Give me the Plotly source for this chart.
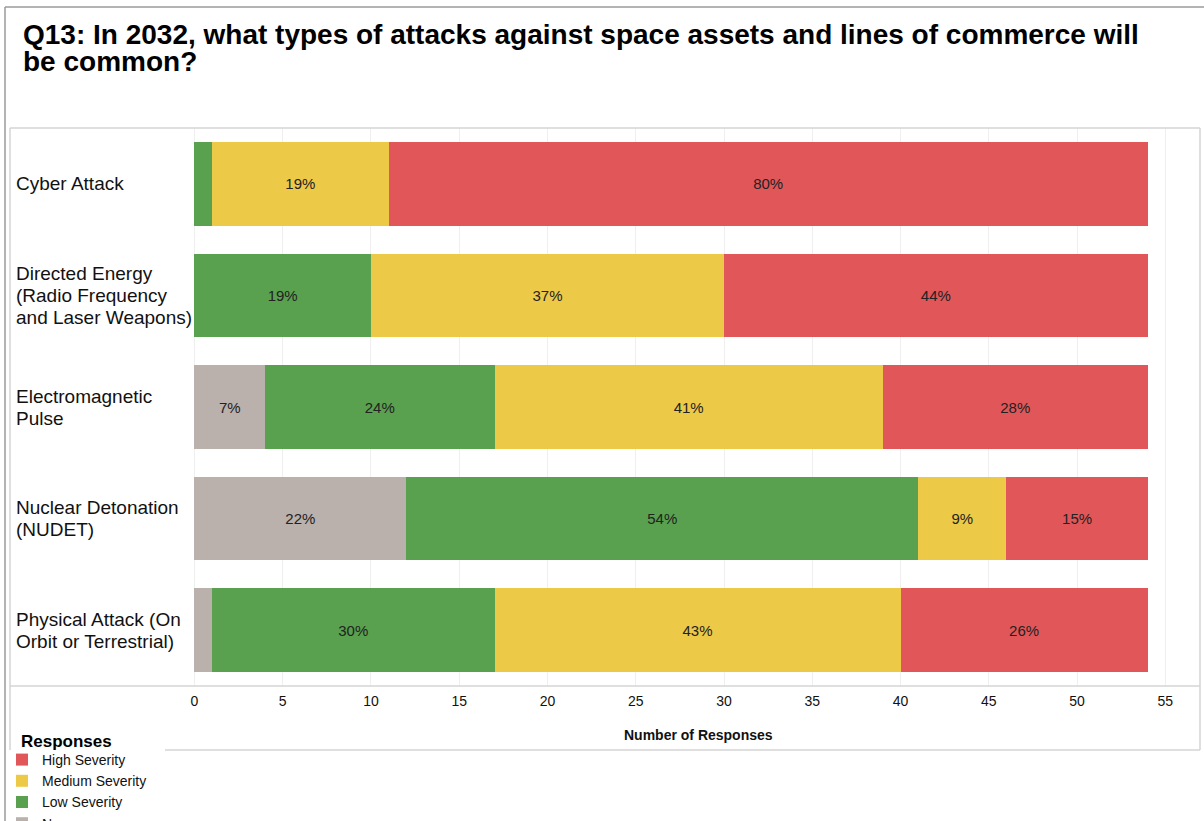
import plotly.graph_objects as go

# Survey responses (counts) per attack type
categories = [
    "Cyber Attack",
    "Directed Energy",
    "Electromagnetic Pulse",
    "Nuclear Detonation",
    "Physical Attack",
]
category_labels = [
    ["Cyber Attack"],
    ["Directed Energy", "(Radio Frequency", "and Laser Weapons)"],
    ["Electromagnetic", "Pulse"],
    ["Nuclear Detonation", "(NUDET)"],
    ["Physical Attack (On", "Orbit or Terrestrial)"],
]
none_counts = [0, 0, 4, 12, 1]
low_counts = [1, 10, 13, 29, 16]
medium_counts = [10, 20, 22, 5, 23]
high_counts = [43, 24, 15, 8, 14]

series = [
    ("None", none_counts, "#BAB0AC"),
    ("Low Severity", low_counts, "#59A14F"),
    ("Medium Severity", medium_counts, "#EDC948"),
    ("High Severity", high_counts, "#E15759"),
]
x_ticks = [0, 5, 10, 15, 20, 25, 30, 35, 40, 45, 50, 55]

W, H = 1204, 821
FONT = "Arial, Liberation Sans, sans-serif"


def px(xp):
    return xp / W


def py(yp):
    return 1 - yp / H


totals = [sum(v) for v in zip(*[s[1] for s in series])]

fig = go.Figure()
for name, vals, color in series:
    labels = []
    for v, t in zip(vals, totals):
        share = v / t if t else 0
        labels.append(f"{round(share * 100)}%" if share >= 0.05 else "")
    fig.add_trace(go.Bar(
        name=name,
        y=categories,
        x=vals,
        orientation="h",
        marker=dict(color=color, line=dict(width=0)),
        text=labels,
        textposition="inside",
        insidetextanchor="middle",
        textangle=0,
        textfont=dict(family=FONT, size=15, color="#222222"),
        hoverinfo="x+y+name",
    ))

frame_col = "#D4D4D4"
shapes = [
    # outer frame
    dict(type="line", xref="paper", yref="paper", x0=px(5), x1=px(5), y0=0, y1=py(7),
         line=dict(color="#9A9A9A", width=1.5)),
    dict(type="line", xref="paper", yref="paper", x0=px(5), x1=1, y0=py(7), y1=py(7),
         line=dict(color="#9A9A9A", width=1.5)),
    # inner chart frame (bottom edge is hidden behind the legend on the left)
    dict(type="line", xref="paper", yref="paper", x0=px(10), x1=px(1200), y0=py(128), y1=py(128),
         line=dict(color=frame_col, width=1.5)),
    dict(type="line", xref="paper", yref="paper", x0=px(10), x1=px(10), y0=py(750), y1=py(128),
         line=dict(color=frame_col, width=1.5)),
    dict(type="line", xref="paper", yref="paper", x0=px(1200), x1=px(1200), y0=py(750), y1=py(128),
         line=dict(color=frame_col, width=1.5)),
    dict(type="line", xref="paper", yref="paper", x0=px(165), x1=px(1200), y0=py(750), y1=py(750),
         line=dict(color=frame_col, width=1.5)),
    # axis separator
    dict(type="line", xref="paper", yref="paper", x0=px(10), x1=px(1200), y0=py(686), y1=py(686),
         line=dict(color=frame_col, width=1.5)),
]

annotations = [
    dict(text="<b>Q13: In 2032, what types of attacks against space assets and lines of commerce will</b>",
         xref="paper", yref="paper", x=px(21), y=py(34), xanchor="left", yanchor="middle",
         showarrow=False, font=dict(family=FONT, size=28, color="#000000")),
    dict(text="<b>be common?</b>",
         xref="paper", yref="paper", x=px(21), y=py(62), xanchor="left", yanchor="middle",
         showarrow=False, font=dict(family=FONT, size=28, color="#000000")),
    dict(text="<b>Number of Responses</b>",
         xref="paper", yref="paper", x=px(698), y=py(735), xanchor="center", yanchor="middle",
         showarrow=False, font=dict(family=FONT, size=14, color="#111111")),
    dict(text="<b>Responses</b>",
         xref="paper", yref="paper", x=px(19), y=py(741), xanchor="left", yanchor="middle",
         showarrow=False, font=dict(family=FONT, size=17, color="#000000")),
]
line_gap = 22
for cat, lines in zip(categories, category_labels):
    n = len(lines)
    for i, ln in enumerate(lines):
        annotations.append(dict(
            text=ln, xref="paper", yref="y", x=px(14), y=cat, xanchor="left", yanchor="middle",
            yshift=-(i - (n - 1) / 2) * line_gap,
            showarrow=False, font=dict(family=FONT, size=19, color="#111111"),
        ))

fig.update_layout(
    width=W,
    height=H,
    barmode="stack",
    bargap=0.25,
    margin=dict(l=0, r=0, t=0, b=0, autoexpand=False),
    paper_bgcolor="white",
    plot_bgcolor="white",
    font=dict(family=FONT, color="#111111"),
    xaxis=dict(
        domain=[px(190), px(1198)],
        range=[-0.25, 56.85],
        tickmode="array",
        tickvals=x_ticks,
        ticktext=[str(t) for t in x_ticks],
        tickfont=dict(family=FONT, size=14, color="#111111"),
        ticklabelstandoff=5,
        showgrid=True,
        gridcolor="#EFEFEF",
        gridwidth=1,
        zeroline=False,
        showline=False,
        ticks="",
    ),
    yaxis=dict(
        domain=[py(686), py(128)],
        categoryorder="array",
        categoryarray=categories,
        autorange="reversed",
        showticklabels=False,
        showgrid=False,
        zeroline=False,
        showline=False,
        ticks="",
    ),
    legend=dict(
        traceorder="reversed",
        x=px(2), y=py(744), xanchor="left", yanchor="top",
        bgcolor="rgba(0,0,0,0)",
        font=dict(family=FONT, size=14, color="#111111"),
        itemwidth=30,
        tracegroupgap=0,
    ),
    shapes=shapes,
    annotations=annotations,
    showlegend=True,
)

fig.write_html("out.html", config={"displayModeBar": False},
               post_script="document.body.style.margin='0px';")
